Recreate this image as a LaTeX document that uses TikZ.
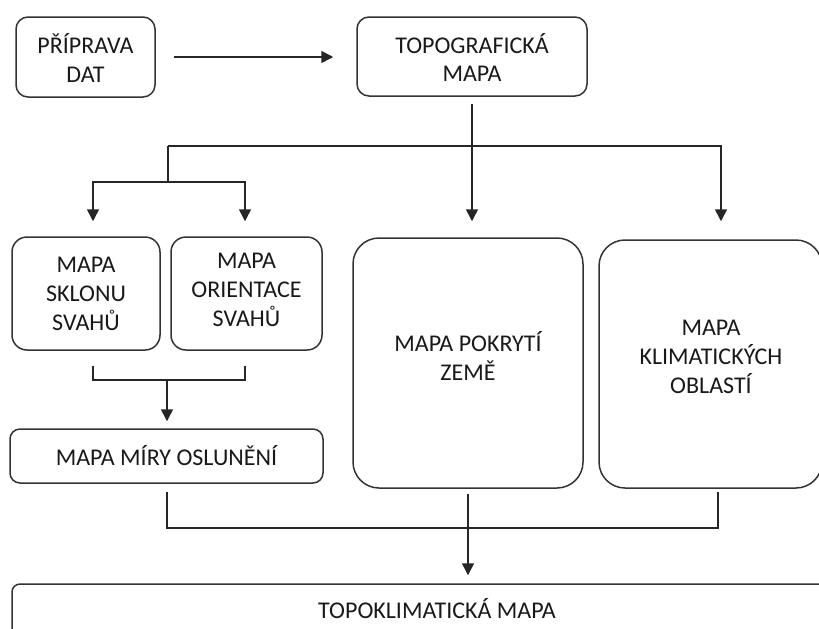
\documentclass[tikz,border=0pt]{standalone}
\usepackage{fontspec}
\setmainfont{Carlito}
\usetikzlibrary{arrows.meta,fit,calc}
\newcommand\lblfont{\fontsize{12pt}{14.4pt}\selectfont}
\begin{document}
\begin{tikzpicture}[x=0.5pt,y=-0.5pt,
  bx/.style={draw=black!80, line width=0.75pt, inner sep=0pt},
  txt/.style={inner sep=0pt, align=center, font=\lblfont, text=black!90},
  ln/.style={draw=black!85, line width=0.75pt},
  arr/.style={ln, -{Triangle[length=6pt,width=6pt]}}]
\useasboundingbox (0,0) rectangle (819,628);
% boxes
\node[bx, rounded corners=6pt, fit={(16,17)(155,97)}] (prep) {};
\node[txt] (prept) at (85.5,58) {PŘÍPRAVA\\DAT};
\node[bx, rounded corners=6pt, fit={(357,17)(587,96)}] (topo) {};
\node[txt] (topot) at (472,57.5) {TOPOGRAFICKÁ\\MAPA};
\node[bx, rounded corners=7.5pt, fit={(12,237)(160,350)}] (sklon) {};
\node[txt] (sklont) at (86,294) {MAPA\\SKLONU\\SVAHŮ};
\node[bx, rounded corners=7.5pt, fit={(171,237)(322,350)}] (orient) {};
\node[txt] (orientt) at (246.5,290) {MAPA\\ORIENTACE\\SVAHŮ};
\node[bx, rounded corners=5pt, fit={(10,429)(323,483)}] (oslun) {};
\node[txt] (osluntt) at (166.5,455.5) {MAPA MÍRY OSLUNĚNÍ};
\node[bx, rounded corners=13pt, fit={(353,238)(583,488)}] (pokr) {};
\node[txt] (pokrt) at (468,356) {MAPA POKRYTÍ\\ZEMĚ};
\node[bx, rounded corners=13pt, fit={(599,240)(822,488)}] (klima) {};
\node[txt] (klimat) at (711,357) {MAPA\\KLIMATICKÝCH\\OBLASTÍ};
\node[bx, rounded corners=4pt, fit={(12,584)(900,680)}] (topok) {};
\node[txt] (topokt) at (437,609) {TOPOKLIMATICKÁ MAPA};
% connectors
\draw[arr, shorten <=9pt, shorten >=11.5pt] (prep.east) -- (prep.east -| topo.west);
\draw[arr, shorten <=3.5pt, shorten >=8pt] (topo.south) -- (topo.south |- pokr.north);
\coordinate (bl) at (168,146);
\coordinate (br) at (721,146);
\draw[arr, shorten >=9pt] (bl) -- (br) -- (br |- klima.north);
\coordinate (sp) at (168,182);
\coordinate (sl) at (93,182);
\coordinate (sr) at (245,182);
\draw[ln] (bl) -- (sp);
\draw[arr, shorten >=7.5pt] (sp) -- (sl) -- (sl |- sklon.north);
\draw[arr, shorten >=7.5pt] (sp) -- (sr) -- (sr |- orient.north);
\coordinate (ql) at (93,366);
\coordinate (qr) at (245,366);
\coordinate (qm) at (167,380);
\draw[ln] (ql) -- ++(0,14) -| (qr);
\draw[arr, shorten >=3.5pt] (qm) -- (qm |- oslun.north);
\coordinate (wl) at (167,492);
\coordinate (wr) at (718,492);
\draw[ln] (wl) -- ++(0,36) -| (wr);
\draw[arr, shorten <=2.5pt, shorten >=4pt] (pokr.south) -- (pokr.south |- topok.north);
\end{tikzpicture}
\end{document}
